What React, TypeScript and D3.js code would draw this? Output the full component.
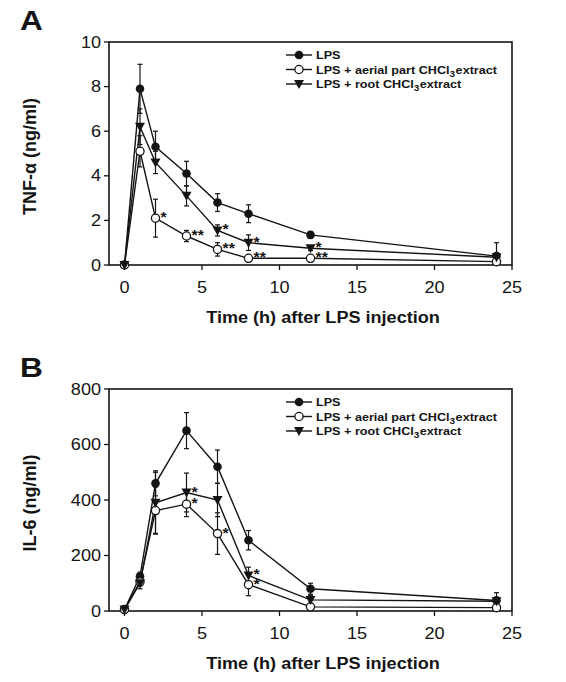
import React from 'react';
import * as d3 from 'd3';

// ---------- data ----------
const TIMES = [0, 1, 2, 4, 6, 8, 12, 24];
const LEGEND_LABELS = ['LPS', 'LPS + aerial part CHCl3extract', 'LPS + root CHCl3extract'];
const MARKERS = ['filled', 'open', 'triangle'];

const TNF_LPS = [0, 7.9, 5.3, 4.1, 2.8, 2.3, 1.35, 0.4];
const TNF_LPS_ERR = [0, 1.1, 0.7, 0.55, 0.4, 0.4, 0.15, 0.6];
const TNF_AERIAL = [0, 5.1, 2.1, 1.3, 0.7, 0.3, 0.3, 0.15];
const TNF_AERIAL_ERR = [0, 0.7, 0.85, 0.25, 0.3, 0.15, 0.15, 0.1];
const TNF_ROOT = [0, 6.2, 4.6, 3.1, 1.55, 1.0, 0.75, 0.35];
const TNF_ROOT_ERR = [0, 0.8, 0.5, 0.45, 0.25, 0.35, 0.1, 0.2];
const TNF_STARS = [
  { s: 1, i: 2, t: '*' }, { s: 1, i: 3, t: '**' }, { s: 1, i: 4, t: '**' },
  { s: 1, i: 5, t: '**' }, { s: 1, i: 6, t: '**' },
  { s: 2, i: 4, t: '*' }, { s: 2, i: 5, t: '*' }, { s: 2, i: 6, t: '*' },
];

const IL6_LPS = [5, 125, 460, 650, 520, 255, 80, 38];
const IL6_LPS_ERR = [0, 15, 45, 65, 60, 35, 20, 28];
const IL6_AERIAL = [5, 105, 362, 385, 279, 95, 15, 12];
const IL6_AERIAL_ERR = [0, 15, 85, 45, 75, 40, 10, 10];
const IL6_ROOT = [5, 100, 390, 427, 400, 128, 40, 35];
const IL6_ROOT_ERR = [0, 20, 110, 70, 60, 30, 15, 15];
const IL6_STARS = [
  { s: 2, i: 3, t: '*' }, { s: 1, i: 3, t: '*' }, { s: 1, i: 4, t: '*' },
  { s: 2, i: 5, t: '*' }, { s: 1, i: 5, t: '*' },
];

const X_TICKS = [0, 5, 10, 15, 20, 25];
const TNF_TICKS = [0, 2, 4, 6, 8, 10];
const IL6_TICKS = [0, 200, 400, 600, 800];

// ---------- style ----------
const FONT = "'Liberation Sans', Arial, Helvetica, sans-serif";
const INK = '#141414';
const SX = 1.13;
const LEFT = 109;
const RIGHT = 512;

function SText({ x, y, anchor = 'start', size, bold = false, children }: any) {
  return (
    <text
      transform={`translate(${x},${y}) scale(${SX},1)`}
      textAnchor={anchor}
      fontSize={size}
      fontWeight={bold ? 'bold' : 'normal'}
      fontFamily={FONT}
      fill={INK}
    >
      {children}
    </text>
  );
}

function Marker({ kind, x, y }: any) {
  if (kind === 'filled') return <circle cx={x} cy={y} r={4.3} fill={INK} />;
  if (kind === 'open')
    return <circle cx={x} cy={y} r={4.1} fill="#fff" stroke={INK} strokeWidth={1.3} />;
  const p = d3.path();
  p.moveTo(x - 5, y - 4);
  p.lineTo(x + 5, y - 4);
  p.lineTo(x, y + 5);
  p.closePath();
  return <path d={p.toString()} fill={INK} />;
}

function LegendLabel({ x, y, label }: any) {
  const parts = label.split('CHCl3');
  return (
    <text
      transform={`translate(${x},${y}) scale(${SX * 0.98},1)`}
      fontSize={11.4}
      fontWeight="bold"
      fontFamily={FONT}
      fill={INK}
    >
      {parts.length === 1 ? (
        label
      ) : (
        <>
          <tspan>{parts[0] + 'CHCl'}</tspan>
          <tspan fontSize={9} dy={3}>3</tspan>
          <tspan dy={-3} dx={0.5}>{parts[1]}</tspan>
        </>
      )}
    </text>
  );
}

function Panel({ top, bottom, yMax, yTicks, values, errs, stars, letter, yTitle }: any) {
  const x = d3.scaleLinear().domain([-1, 25]).range([LEFT, RIGHT]);
  const y = d3.scaleLinear().domain([0, yMax]).range([bottom, top]);
  const line = d3
    .line<number>()
    .x((_, i) => x(TIMES[i]))
    .y((d) => y(d));
  const midY = (top + bottom) / 2;

  return (
    <g>
      <SText x={20} y={top - 12} size={28} bold>
        {letter}
      </SText>
      {/* frame */}
      <rect
        x={LEFT}
        y={top}
        width={RIGHT - LEFT}
        height={bottom - top}
        fill="none"
        stroke={INK}
        strokeWidth={1.6}
      />
      {/* y ticks */}
      {yTicks.map((t: number) => (
        <g key={'y' + t}>
          <line x1={LEFT - 5} x2={LEFT} y1={y(t)} y2={y(t)} stroke={INK} strokeWidth={1.3} />
          <SText x={101} y={y(t) + 5.6} anchor="end" size={16}>
            {t}
          </SText>
        </g>
      ))}
      {/* x ticks */}
      {X_TICKS.map((t) => (
        <g key={'x' + t}>
          <line x1={x(t)} x2={x(t)} y1={bottom} y2={bottom + 5} stroke={INK} strokeWidth={1.3} />
          <SText x={x(t)} y={bottom + 28} anchor="middle" size={16}>
            {t}
          </SText>
        </g>
      ))}
      <SText x={323} y={bottom + 58} anchor="middle" size={16} bold>
        Time (h) after LPS injection
      </SText>
      <text
        transform={`translate(35.5,${midY + 3}) rotate(-90)`}
        textAnchor="middle"
        fontSize={18}
        fontWeight="bold"
        fontFamily={FONT}
        fill={INK}
      >
        {yTitle}
      </text>

      {/* lines */}
      {values.map((v: number[], s: number) => (
        <path key={'l' + s} d={line(v) || ''} fill="none" stroke={INK} strokeWidth={1.4} />
      ))}
      {/* error bars */}
      {values.map((v: number[], s: number) =>
        v.map((d, i) =>
          errs[s][i] > 0 ? (
            <g key={'e' + s + '-' + i} stroke={INK} strokeWidth={1.2}>
              <line x1={x(TIMES[i])} x2={x(TIMES[i])} y1={y(d + errs[s][i])} y2={y(Math.max(0, d - errs[s][i]))} />
              <line x1={x(TIMES[i]) - 2.5} x2={x(TIMES[i]) + 2.5} y1={y(d + errs[s][i])} y2={y(d + errs[s][i])} />
              <line
                x1={x(TIMES[i]) - 2.5}
                x2={x(TIMES[i]) + 2.5}
                y1={y(Math.max(0, d - errs[s][i]))}
                y2={y(Math.max(0, d - errs[s][i]))}
              />
            </g>
          ) : null
        )
      )}
      {/* markers */}
      {values.map((v: number[], s: number) =>
        v.map((d, i) => <Marker key={'m' + s + '-' + i} kind={MARKERS[s]} x={x(TIMES[i])} y={y(d)} />)
      )}
      {/* significance stars */}
      {stars.map((st: any, k: number) => (
        <SText key={'s' + k} x={x(TIMES[st.i]) + 5} y={y(values[st.s][st.i]) + 4} size={14} bold>
          {st.t}
        </SText>
      ))}
      {/* legend */}
      {LEGEND_LABELS.map((lab, s) => {
        const ry = top + 13 + s * 14.5;
        return (
          <g key={'lg' + s}>
            <line x1={286} x2={312} y1={ry} y2={ry} stroke={INK} strokeWidth={1.4} />
            <Marker kind={MARKERS[s]} x={299} y={ry} />
            <LegendLabel x={316} y={ry + 4.2} label={lab} />
          </g>
        );
      })}
    </g>
  );
}

export default function App() {
  return (
    <svg
      width={566}
      height={682}
      style={{ position: 'absolute', left: 0, top: 0, background: '#fff' }}
    >
      <rect width={566} height={682} fill="#fff" />
      <Panel
        top={42}
        bottom={265}
        yMax={10}
        yTicks={TNF_TICKS}
        values={[TNF_LPS, TNF_AERIAL, TNF_ROOT]}
        errs={[TNF_LPS_ERR, TNF_AERIAL_ERR, TNF_ROOT_ERR]}
        stars={TNF_STARS}
        letter="A"
        yTitle="TNF-α (ng/ml)"
      />
      <Panel
        top={389}
        bottom={611}
        yMax={800}
        yTicks={IL6_TICKS}
        values={[IL6_LPS, IL6_AERIAL, IL6_ROOT]}
        errs={[IL6_LPS_ERR, IL6_AERIAL_ERR, IL6_ROOT_ERR]}
        stars={IL6_STARS}
        letter="B"
        yTitle="IL-6 (ng/ml)"
      />
    </svg>
  );
}
